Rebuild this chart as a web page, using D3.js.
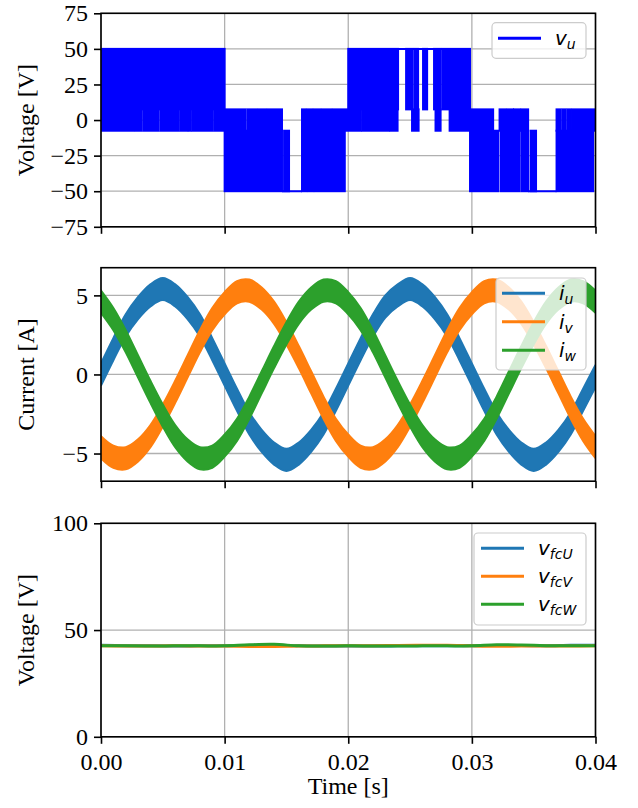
<!DOCTYPE html>
<html>
<head>
<meta charset="utf-8">
<script src="https://cdn.jsdelivr.net/npm/d3@7"></script>
<style>
  body { margin: 0; background: #fff; }
  text { font-family: "Liberation Serif", "Times New Roman", serif; }
  .math { font-family: "DejaVu Sans", sans-serif; font-style: italic; }
</style>
</head>
<body>
<svg id="chart" width="638" height="808"></svg>
<script>
// ---- data ----
var timeTicks = [0, 0.01, 0.02, 0.03, 0.04];
var vTicks = [-75, -50, -25, 0, 25, 50, 75];
var iTicks = [-5, 0, 5];
var fcTicks = [0, 50, 100];

// v_u switches between levels; bands of dense switching, [start ms, end ms]
var vLevels = [-50, -7.5, 7.5, 50];
var bandHighMs = [[0, 10], [20, 24.03], [24.68, 25.2], [25.35, 25.65], [26.05, 26.38],
  [26.94, 27.45], [27.6, 29.85]];
var bandMidMs = [[0, 2.6], [2.75, 3.3], [3.45, 4.65], [4.8, 6.25], [6.4, 6.98], [7.1, 7.27],
  [7.4, 9.0], [9.15, 11.7], [11.85, 12.55], [12.7, 13.35], [13.5, 14.64],
  [16.26, 16.52], [16.66, 17.08], [17.22, 17.73], [17.87, 18.62], [18.76, 21.0],
  [21.12, 23.3], [23.42, 23.99], [25.16, 25.69], [27.06, 27.47], [28.2, 31.72],
  [32.24, 32.7], [32.84, 33.33], [33.41, 33.9], [34.02, 34.55],
  [36.85, 37.17], [37.31, 37.58], [37.72, 37.96], [38.1, 40.0]];
var bandLowMs = [[10, 14.64], [14.81, 15.21], [16.26, 16.6], [16.74, 17.16], [17.3, 19.72],
  [29.85, 32.12], [32.32, 33.86], [34.02, 34.55], [34.75, 35.19], [36.85, 39.81]];
var holdHighMs = [[20, 29.85]];
var holdLowMs = [[14.64, 16.26], [34.55, 36.85]];

// phase currents, sampled every 1 ms
var currentMs = [0, 1, 2, 3, 4, 5, 6, 7, 8, 9, 10, 11, 12, 13, 14, 15, 16, 17, 18, 19, 20,
  21, 22, 23, 24, 25, 26, 27, 28, 29, 30, 31, 32, 33, 34, 35, 36, 37, 38, 39, 40];
var iu = [0, 1.6, 3.1, 4.2, 5.0, 5.4, 5.0, 4.2, 3.1, 1.6, 0, -1.6, -3.1, -4.2, -5.0, -5.4,
  -5.0, -4.2, -3.1, -1.6, 0, 1.6, 3.1, 4.3, 5.0, 5.4, 5.0, 4.2, 3.1, 1.6, 0, -1.6, -3.1,
  -4.2, -5.0, -5.4, -5.0, -4.2, -3.1, -1.6, -0.1];
var iv = [-4.6, -5.2, -5.3, -4.8, -3.9, -2.6, -1.1, 0.5, 2.1, 3.5, 4.5, 5.2, 5.3, 4.8, 3.9,
  2.6, 1.1, -0.5, -2.1, -3.5, -4.5, -5.2, -5.3, -4.8, -3.9, -2.6, -1.1, 0.5, 2.1, 3.5, 4.5,
  5.2, 5.3, 4.8, 3.9, 2.6, 1.1, -0.5, -2.1, -3.5, -4.6];
var iw = [4.6, 3.5, 2.1, 0.5, -1.1, -2.6, -3.9, -4.8, -5.3, -5.2, -4.5, -3.5, -2.1, -0.5,
  1.1, 2.6, 3.9, 4.8, 5.3, 5.2, 4.5, 3.5, 2.1, 0.5, -1.1, -2.6, -3.9, -4.8, -5.3, -5.2,
  -4.5, -3.5, -2.1, -0.5, 1.1, 2.6, 3.9, 4.8, 5.3, 5.2, 4.6];
var rippleA = 0.7;

// flying capacitor voltages, sampled every 2 ms
var fcMs = [0, 2, 4, 6, 8, 10, 12, 14, 16, 18, 20, 22, 24, 26, 28, 30, 32, 34, 36, 38, 40];
var vfcU = [42.9, 42.7, 42.6, 42.5, 42.6, 42.6, 42.8, 43.0, 42.6, 42.5, 42.5, 42.5, 42.6,
  42.6, 42.6, 42.7, 42.8, 42.8, 42.6, 42.9, 42.9];
var vfcV = [42.6, 42.5, 42.5, 42.6, 42.5, 42.5, 42.3, 42.3, 42.5, 42.6, 42.6, 42.6, 42.8,
  42.9, 42.9, 42.6, 42.4, 42.5, 42.5, 42.5, 42.6];
var vfcW = [42.7, 42.6, 42.5, 42.6, 42.6, 42.6, 43.1, 43.3, 42.6, 42.5, 42.6, 42.5, 42.5,
  42.6, 42.6, 42.6, 43.1, 43.0, 42.7, 42.6, 42.6];

var colors = ["#1f77b4", "#ff7f0e", "#2ca02c"];

// ---- layout ----
var svg = d3.select("#chart");
var plotLeft = 101, plotRight = 595.5, panelH = 213.5;
var panelTops = [13.3, 267.7, 523.3];
var fontSize = 24;

var x = d3.scaleLinear().domain([0, 0.04]).range([plotLeft, plotRight]);
var ms = function(t) { return x(t / 1000); };

function makePanel(i, yDomain, yTicks) {
  var top = panelTops[i], bottom = top + panelH;
  var y = d3.scaleLinear().domain(yDomain).range([bottom, top]);
  var g = svg.append("g");

  g.append("clipPath").attr("id", "clip" + i)
    .append("rect").attr("x", plotLeft).attr("y", top)
      .attr("width", plotRight - plotLeft).attr("height", panelH);

  g.selectAll(null).data(timeTicks).enter().append("line")
    .attr("x1", function(d) { return x(d); }).attr("x2", function(d) { return x(d); })
    .attr("y1", top).attr("y2", bottom)
    .attr("stroke", "#b0b0b0").attr("stroke-width", 1.3);
  g.selectAll(null).data(yTicks).enter().append("line")
    .attr("x1", plotLeft).attr("x2", plotRight)
    .attr("y1", function(d) { return y(d); }).attr("y2", function(d) { return y(d); })
    .attr("stroke", "#b0b0b0").attr("stroke-width", 1.3);

  var plot = g.append("g").attr("clip-path", "url(#clip" + i + ")");
  return { g: g, plot: plot, y: y, top: top, bottom: bottom, ticks: yTicks };
}

function finishPanel(p, yLabel, showX) {
  var xAxis = d3.axisBottom(x).tickValues(timeTicks).tickSize(7).tickPadding(9)
    .tickFormat(showX ? d3.format(".2f") : "");
  var yAxis = d3.axisLeft(p.y).tickValues(p.ticks).tickSize(7).tickPadding(6)
    .tickFormat(d3.format("d"));

  var ax = p.g.append("g").attr("transform", "translate(0," + p.bottom + ")").call(xAxis);
  var ay = p.g.append("g").attr("transform", "translate(" + plotLeft + ",0)").call(yAxis);
  [ax, ay].forEach(function(a) {
    a.select(".domain").remove();
    a.selectAll(".tick line").attr("stroke", "#000").attr("stroke-width", 1.6);
    a.selectAll(".tick text").attr("fill", "#000")
      .style("font-family", "'Liberation Serif', serif").style("font-size", fontSize + "px");
  });

  p.g.append("rect")
    .attr("x", plotLeft).attr("y", p.top)
    .attr("width", plotRight - plotLeft).attr("height", panelH)
    .attr("fill", "none").attr("stroke", "#000").attr("stroke-width", 1.6);

  p.g.append("text")
    .attr("transform", "translate(34," + (p.top + panelH / 2) + ") rotate(-90)")
    .attr("text-anchor", "middle").style("font-size", fontSize + "px")
    .text(yLabel);
}

function legend(box, entries) {
  var lg = svg.append("g");
  lg.append("rect")
    .attr("x", box.x).attr("y", box.y).attr("width", box.w).attr("height", box.h)
    .attr("rx", 4).attr("fill", "#fff").attr("fill-opacity", 0.8)
    .attr("stroke", "#cccccc").attr("stroke-width", 1.2);
  entries.forEach(function(e, k) {
    var yy = box.y + box.first + k * box.step;
    lg.append("line")
      .attr("x1", box.x + box.pad).attr("x2", box.x + box.pad + 43)
      .attr("y1", yy).attr("y2", yy)
      .attr("stroke", e.color).attr("stroke-width", 3);
    var t = lg.append("text").attr("class", "math")
      .attr("x", box.x + box.pad + 57).attr("y", yy + 7)
      .style("font-size", "20px");
    t.append("tspan").text(e.base);
    t.append("tspan").text(e.sub).attr("dy", 4).style("font-size", "14px");
  });
}

// ---- top: output voltage ----
var p1 = makePanel(0, [-75, 75], vTicks);
function drawBand(intervals, lo, hi) {
  p1.plot.selectAll(null).data(intervals).enter().append("rect")
    .attr("x", function(d) { return ms(d[0]); })
    .attr("width", function(d) { return ms(d[1]) - ms(d[0]); })
    .attr("y", p1.y(hi)).attr("height", p1.y(lo) - p1.y(hi))
    .attr("fill", "blue").attr("stroke", "blue").attr("stroke-width", 2);
}
function drawHold(intervals, level) {
  p1.plot.selectAll(null).data(intervals).enter().append("line")
    .attr("x1", function(d) { return ms(d[0]); })
    .attr("x2", function(d) { return ms(d[1]); })
    .attr("y1", p1.y(level)).attr("y2", p1.y(level))
    .attr("stroke", "blue").attr("stroke-width", 2);
}
drawBand(bandHighMs, vLevels[2], vLevels[3]);
drawBand(bandMidMs, vLevels[1], vLevels[2]);
drawBand(bandLowMs, vLevels[0], vLevels[1]);
drawHold(holdHighMs, vLevels[3]);
drawHold(holdLowMs, vLevels[0]);
finishPanel(p1, "Voltage [V]", false);
legend({ x: 492, y: 22.7, w: 94, h: 35.6, first: 15.5, step: 28.3, pad: 6 },
  [{ color: "blue", base: "v", sub: "u" }]);

// ---- middle: phase currents ----
var p2 = makePanel(1, [-6.75, 6.75], iTicks);
[iu, iv, iw].forEach(function(series, k) {
  var pts = series.map(function(v, j) { return [currentMs[j], v]; });
  var band = d3.area()
    .x(function(d) { return ms(d[0]); })
    .y0(function(d) { return p2.y(d[1] - rippleA); })
    .y1(function(d) { return p2.y(d[1] + rippleA); })
    .curve(d3.curveCatmullRom);
  p2.plot.append("path").datum(pts)
    .attr("d", band)
    .attr("fill", colors[k]).attr("stroke", colors[k]).attr("stroke-width", 2);
});
finishPanel(p2, "Current [A]", false);
legend({ x: 496, y: 278, w: 90, h: 92, first: 15.3, step: 28.5, pad: 6 },
  [{ color: colors[0], base: "i", sub: "u" },
   { color: colors[1], base: "i", sub: "v" },
   { color: colors[2], base: "i", sub: "w" }]);

// ---- bottom: flying capacitor voltages ----
var p3 = makePanel(2, [0, 100], fcTicks);
var fcLine = d3.line()
  .x(function(d) { return ms(d[0]); })
  .y(function(d) { return p3.y(d[1]); })
  .curve(d3.curveCatmullRom);
[vfcU, vfcV, vfcW].forEach(function(series, k) {
  var pts = series.map(function(v, j) { return [fcMs[j], v]; });
  p3.plot.append("path").datum(pts)
    .attr("d", fcLine)
    .attr("fill", "none").attr("stroke", colors[k]).attr("stroke-width", 3);
});
finishPanel(p3, "Voltage [V]", true);
legend({ x: 474, y: 533, w: 112, h: 92, first: 15.3, step: 28, pad: 7 },
  [{ color: colors[0], base: "v", sub: "fcU" },
   { color: colors[1], base: "v", sub: "fcV" },
   { color: colors[2], base: "v", sub: "fcW" }]);

svg.append("text")
  .attr("x", (plotLeft + plotRight) / 2).attr("y", 794)
  .attr("text-anchor", "middle").style("font-size", fontSize + "px")
  .text("Time [s]");
</script>
</body>
</html>
